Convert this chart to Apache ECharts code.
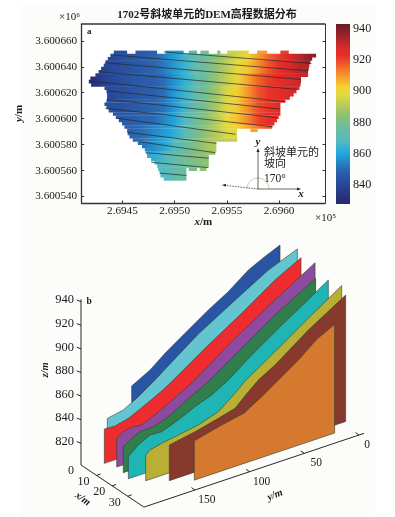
<!DOCTYPE html>
<html>
<head>
	<meta charset="utf-8"/>
	<title>1702号斜坡单元的DEM高程数据分布</title>
	<script src="https://cdn.jsdelivr.net/npm/echarts@6/dist/echarts.min.js"></script>
</head>
<body style="margin: 0; background: #fff;">

	<div id="chart" style="width: 395px; height: 517px;"></div>

	<script>

		var serif = '"Liberation Serif", "Noto Sans CJK SC", serif';
		var ink = '#1a1a1a';

		// 图a: 坐标基准, 下面的数都是相对它的偏移 (m)
		var xBase = 269400, yBase = 3600000;
		var xTicks = [269450, 269500, 269550, 269600];
		var yTicks = [3600540, 3600560, 3600580, 3600600, 3600620, 3600640, 3600660];
		var barTicks = [840, 860, 880, 900, 920, 940];

		// 每行高2.5m, 从y=652.5往下, 每行是若干 [起点, 终点]
		var rowSpans = [
			[41.7, 54.5, 62.5, 83.2, 91.2, 108.7, 113.5, 121.5, 124.7, 132.7, 140.7, 143.9, 150.3, 171, 179, 188.6, 201.3, 209.3],
			[38.5, 235.5], [36, 231.7], [33.7, 230], [32.1, 229.1], [29.6, 228.5],
			[27.3, 227.8], [24.1, 227.8], [19.3, 221.1], [17.8, 221.1], [20, 220.5],
			[32.8, 219.5], [34.7, 216.7], [35.3, 214], [35.3, 210.3], [34.7, 206],
			[32.8, 201.3], [34.7, 201.3], [36.9, 201.3], [41, 201.3], [43.6, 199.7],
			[46.5, 198], [49.7, 195.6], [51.9, 193.4], [54.5, 159.8, 172.6, 179.6], [55, 159.8],
			[56.7, 159.8], [59.9, 159.8], [64.7, 140], [68.8, 140], [71.4, 140],
			[73, 139], [73.6, 132.7], [77.5, 132.7], [80.7, 132.7], [83.2, 132.7],
			[84.2, 111.3, 113.5, 121.5, 124, 130.5], [85.5, 111.3], [86.4, 111.3], [89.6, 111.3]
		];

		// 高程读数: 行 elevY, 列 elevX
		var elevX = [20, 30, 40, 50, 60, 70, 80, 90, 100, 110, 120, 130, 140, 150, 160, 170, 180, 190, 200, 210, 220, 230, 240];
		var elevY = [650, 640, 630, 620, 610, 600, 590, 580, 570, 560];
		var elevZ = [
			[832, 836, 840, 843, 845, 847, 849, 854, 859, 866, 873, 878, 884, 890, 895, 901, 909, 916, 921, 928, 932, 938, 941],
			[832, 837, 841, 843, 845, 847, 849, 853, 858, 865, 873, 878, 885, 892, 898, 904, 911, 918, 923, 928, 932, 938, 941],
			[830, 837, 841, 843, 845, 847, 848, 851, 857, 864, 872, 878, 886, 893, 901, 908, 916, 921, 924, 927, 930, 934, 938],
			[834, 838, 841, 843, 845, 847, 848, 851, 858, 865, 873, 879, 887, 896, 903, 910, 918, 922, 924, 927, 929, 931, 933],
			[838, 841, 843, 844, 846, 848, 849, 852, 858, 866, 874, 881, 889, 897, 904, 911, 919, 922, 924, 925, 926, 927, 928],
			[842, 843, 844, 846, 847, 849, 850, 855, 860, 868, 876, 883, 891, 898, 905, 912, 920, 923, 925, 926, 928, 929, 930],
			[null, null, 846, 847, 849, 851, 855, 858, 863, 870, 878, 885, 891, 897, 903, 908, 914, 919, 921, null, null, null, null],
			[null, null, null, 848, 850, 852, 856, 861, 868, 875, 882, 888, 891, 893, null, null, null, null, null, null, null, null, null],
			[null, null, null, null, null, 857, 862, 867, 873, 879, 882, 885, 887, null, null, null, null, null, null, null, null, null, null],
			[null, null, null, null, null, null, 864, 868, 872, 876, 880, 884, 886, null, null, null, null, null, null, null, null, null, null]
		];

		// 坡面线 [x0, y0, x1, y1]
		var slopeLines = [
			[89.6, 651.5, 231, 642.6],
			[41.7, 649, 227.8, 636.9],
			[33.7, 643.1, 220.5, 630.3],
			[27.3, 636.2, 217.3, 622.6],
			[19.3, 629, 206.1, 613.1],
			[35.3, 621.5, 200.7, 607.4],
			[35.3, 614.9, 198.1, 600.8],
			[33.7, 608, 194, 593.8],
			[44.9, 600.3, 158.2, 588],
			[54.5, 589.5, 140, 581],
			[65.6, 582.3, 139, 573.8],
			[72, 573.8, 132.7, 569.5],
			[77.5, 566.4, 131.7, 562.3],
			[85.8, 558, 111.3, 556.2]
		];

		// 色标, 从828到943等距
		var barMin = 828, barMax = 943;
		var barColors = ['#27286f', '#283379', '#27418f', '#28509f', '#2a5fab', '#2a79bd', '#1f9cd8', '#2dafd8',
			'#55b9c0', '#63bcab', '#70bd97', '#85c07a', '#a3c662', '#c2cf52', '#e5da3e', '#f4d030',
			'#f6a62c', '#f3802a', '#ee5528', '#e72d28', '#d72a2a', '#b02428', '#8c2026', '#681a22'];

		// 图b: 各剖面, 后面的先画
		var sliceX = [1, 3, 5, 10, 15, 20, 25, 30, 35];
		var sliceColors = ['#2a55a5', '#63c5cf', '#ee2c30', '#8e4a9f', '#2f7e4b', '#1fb5b5', '#b8b035', '#86392c', '#d4792e'];
		var sliceBase = 803;
		var sliceY = [
			[151.7, 134.9, 121.2, 103, 81.6, 63.3, 45, 31.3, 16.1],
			[176.8, 162.2, 148.4, 133.2, 124.1, 93.6, 63.1, 29.6, 3.1],
			[182.4, 172.6, 160.5, 145.2, 130, 119.3, 87.3, 56.9, 26.4, 2.6],
			[178.2, 172.1, 164.5, 155.4, 143.2, 128, 106.6, 73.1, 33.5, -3.1],
			[179.3, 171.6, 164, 151.8, 138.1, 122.9, 100, 69.6, 40.6, 3.5],
			[181.8, 172.7, 162, 151.3, 136.1, 120.9, 105.6, 90.4, 69.1, 47.7, 23.4, -1],
			[173.1, 169.1, 158.5, 143.2, 124.9, 106.7, 91.4, 82.3, 54.9, 24.4, -6.1],
			[158.6, 135.1, 113.8, 98.5, 89.4, 77.2, 62, 31.5, -2.6],
			[142.9, 117.9, 96.5, 91.9, 81.3, 70.6, 60, 46.2, 31, 14.6]
		];
		var sliceZ = [
			[855.5, 863.8, 873.7, 885, 898.1, 908, 920.6, 926.8, 932.8],
			[837.6, 840.2, 847.2, 856.6, 862.8, 883.3, 899.8, 917.6, 927.2],
			[832.1, 831.6, 834.3, 840.9, 848, 854, 873.7, 891.1, 909.9, 921.4],
			[827.3, 831.1, 832.4, 831.5, 836.2, 843.6, 854.5, 876.6, 899.6, 919.8],
			[825, 829.7, 833, 833.4, 837.6, 845.6, 856.9, 875.7, 893.5, 913],
			[821.7, 828.8, 833.9, 833.4, 838.6, 845.2, 850.3, 858.3, 872.8, 886, 900.2, 914.6],
			[824.8, 827.9, 830.2, 832.5, 835.3, 840.9, 851.7, 859.3, 875.7, 894.5, 912.7],
			[833.2, 837.2, 841.9, 845.6, 853.5, 863, 871, 891.2, 910.2],
			[836.4, 841.9, 845.8, 848.9, 854.6, 861.1, 867.7, 876.2, 887.6, 895.2]
		];

		var fenceZTicks = [820, 840, 860, 880, 900, 920, 940];
		var fenceXTicks = [0, 10, 20, 30];
		var fenceYTicks = [0, 50, 100, 150];

		// 斜投影, 图b的三维坐标到平面
		function project (x, y, z) {
			var u = 196.6 - y;
			return [81 + 1.558 * x + 1.094 * u, 465 + 1.042 * x - 0.3667 * u - 1.18 * (z - 801.6)];
		}

		function zColor (z) {
			return echarts.color.lerp((z - barMin) / (barMax - barMin), barColors);
		}

		// 一个色带: 用最近的高程行, 沿x方向做渐变
		function spanFill (a, b, y) {
			var band = Math.max(0, Math.min(elevY.length - 1, Math.round((650 - y) / 10)));
			var zs = elevZ[band];
			var stops = [];
			for (var i = 0; i < elevX.length; i++) {
				if (zs[i] != null && elevX[i] >= a && elevX[i] <= b) {
					stops.push({offset: (elevX[i] - a) / (b - a), color: zColor(zs[i])});
				}
			}
			if (!stops.length) {
				var best = null;
				for (var j = 0; j < elevX.length; j++) {
					if (zs[j] != null && (best === null || Math.abs(elevX[j] - a) < Math.abs(elevX[best] - a))) {
						best = j;
					}
				}
				return zColor(zs[best]);
			}
			return new echarts.graphic.LinearGradient(0, 0, 1, 0, stops);
		}

		var spanData = [];
		rowSpans.forEach(function (spans, i) {
			var y = 651.25 - 2.5 * i;
			for (var k = 0; k < spans.length; k += 2) {
				spanData.push([spans[k] + xBase, spans[k + 1] + xBase, y + yBase]);
			}
		});

		var series = [];

		series.push({
			type: 'custom',
			xAxisIndex: 0,
			yAxisIndex: 0,
			silent: true,
			clip: true,
			data: spanData,
			encode: {x: [0, 1], y: 2},
			renderItem: function (params, api) {
				var a = api.value(0), b = api.value(1), y = api.value(2);
				var p0 = api.coord([a, y + 1.25]);
				var p1 = api.coord([b, y - 1.25]);
				return {
					type: 'rect',
					shape: {x: p0[0], y: p0[1], width: p1[0] - p0[0], height: p1[1] - p0[1] + 0.4},
					style: {fill: spanFill(a - xBase, b - xBase, y - yBase)}
				};
			}
		});

		slopeLines.forEach(function (l) {
			series.push({
				type: 'line',
				xAxisIndex: 0,
				yAxisIndex: 0,
				silent: true,
				showSymbol: false,
				z: 5,
				lineStyle: {color: '#26262c', width: 0.7},
				data: [[l[0] + xBase, l[1] + yBase], [l[2] + xBase, l[3] + yBase]]
			});
		});

		// 色标
		series.push({
			type: 'custom',
			xAxisIndex: 1,
			yAxisIndex: 2,
			silent: true,
			data: [[0, barMin, 1, barMax]],
			encode: {x: [0, 2], y: [1, 3]},
			renderItem: function (params, api) {
				var p0 = api.coord([api.value(0), api.value(3)]);
				var p1 = api.coord([api.value(2), api.value(1)]);
				var stops = barColors.map(function (c, i) {
					return {offset: 1 - i / (barColors.length - 1), color: c};
				}).reverse();
				return {
					type: 'rect',
					shape: {x: p0[0], y: p0[1], width: p1[0] - p0[0], height: p1[1] - p0[1]},
					style: {fill: new echarts.graphic.LinearGradient(0, 0, 0, 1, stops)}
				};
			}
		});

		// 图b 剖面
		series.push({
			type: 'custom',
			xAxisIndex: 2,
			yAxisIndex: 3,
			silent: true,
			clip: false,
			data: sliceX.map(function (x, i) { return [i]; }),
			renderItem: function (params, api) {
				var i = params.dataIndex;
				var ys = sliceY[i], zs = sliceZ[i], x = sliceX[i];
				var pts = [api.coord(project(x, ys[0], sliceBase))];
				for (var k = 0; k < ys.length; k++) {
					pts.push(api.coord(project(x, ys[k], zs[k])));
				}
				pts.push(api.coord(project(x, ys[ys.length - 1], sliceBase)));
				return {
					type: 'polygon',
					shape: {points: pts},
					style: {fill: sliceColors[i], stroke: '#33402f', lineWidth: 0.6, lineJoin: 'round'}
				};
			}
		});

		// 图b 坐标轴
		series.push({
			type: 'custom',
			xAxisIndex: 2,
			yAxisIndex: 3,
			silent: true,
			clip: false,
			data: [[0]],
			renderItem: function (params, api) {
				var kids = [];
				function seg (a, b) {
					var p = api.coord(a), q = api.coord(b);
					kids.push({type: 'line', shape: {x1: p[0], y1: p[1], x2: q[0], y2: q[1]},
						style: {stroke: '#111', lineWidth: 0.9}});
				}
				function label (text, p, dx, dy, size) {
					var c = api.coord(p);
					kids.push({type: 'text', style: {text: text, x: c[0] + dx, y: c[1] + dy, fill: ink,
						font: size + 'px ' + serif, textAlign: 'center', textVerticalAlign: 'middle'}});
				}
				var o = project(0, 196.6, 801.6);
				seg(o, project(0, 196.6, 942));
				seg(o, project(40.4, 196.6, 801.6));
				seg(project(40.4, 196.6, 801.6), project(40.4, -4.6, 801.6));
				fenceZTicks.forEach(function (t) {
					var p = project(0, 196.6, t);
					seg(p, [p[0] - 4.3, p[1] - 1.7]);
					label(String(t), p, -16.5, -1.5, 12.5);
				});
				fenceXTicks.forEach(function (t, i) {
					var p = project(t, 196.6, 801.6);
					if (i > 0) seg(p, [p[0] + 4, p[1] - 1.4]);
					label(String(t), p, i === 0 ? -10 : -13, 6.3, 12);
				});
				fenceYTicks.forEach(function (t) {
					var p = project(40.4, t, 801.6);
					seg(p, [p[0] - 3.5, p[1] - 2.4]);
					label(String(t), p, t === 0 ? 8 : 12, 10, 11.5);
				});
				return {type: 'group', children: kids};
			}
		});

		function tickLabel (size) {
			return {fontFamily: serif, fontSize: size, color: ink};
		}

		var italicName = {i: {fontStyle: 'italic', fontFamily: serif, fontSize: 11, color: ink, fontWeight: 'bold'}};

		var option = {
			animation: false,
			grid: [
				{left: 81.7, top: 24, width: 243.3, height: 179, show: true, backgroundColor: '#fff', borderWidth: 0},
				{left: 336, top: 24, width: 14, height: 180, show: false},
				{left: 0, top: 0, width: 395, height: 517, show: false}
			],
			xAxis: [
				{
					type: 'value', gridIndex: 0, min: 269411, max: 269644,
					axisLine: {lineStyle: {color: '#333', width: 1.3}, onZero: false},
					axisTick: {inside: true, length: 2.5, customValues: xTicks, lineStyle: {color: '#333'}},
					axisLabel: Object.assign(tickLabel(11.2), {margin: 2, customValues: xTicks, formatter: function (v) { return (v / 1e5).toFixed(4); }}),
					splitLine: {show: false},
					name: '{i|x}/m', nameLocation: 'middle', nameGap: 14,
					nameTextStyle: {fontFamily: serif, fontSize: 11, color: ink, fontWeight: 'bold', rich: italicName}
				},
				{type: 'value', gridIndex: 1, min: 0, max: 1, show: false},
				{type: 'value', gridIndex: 2, min: 0, max: 395, show: false}
			],
			yAxis: [
				{
					type: 'value', gridIndex: 0, min: 3600535, max: 3600673,
					axisLine: {show: true, lineStyle: {color: '#333', width: 1.3}, onZero: false},
					axisTick: {inside: true, length: 2.5, customValues: yTicks, lineStyle: {color: '#333'}},
					axisLabel: Object.assign(tickLabel(11.2), {margin: 4.5, customValues: yTicks, formatter: function (v) { return (v / 1e6).toFixed(6); }}),
					splitLine: {show: false},
					name: '{i|y}/m', nameLocation: 'middle', nameGap: 43,
					nameTextStyle: {fontFamily: serif, fontSize: 11, color: ink, fontWeight: 'bold', rich: italicName}
				},
				{
					type: 'value', gridIndex: 0, position: 'right', min: 3600535, max: 3600673,
					axisLine: {show: true, lineStyle: {color: '#333', width: 1}, onZero: false},
					axisTick: {inside: true, length: 2.5, customValues: yTicks, lineStyle: {color: '#333'}},
					axisLabel: {show: false},
					splitLine: {show: false}
				},
				{
					type: 'value', gridIndex: 1, position: 'right', min: 828, max: 943,
					axisLine: {show: false},
					axisTick: {show: false},
					axisLabel: Object.assign(tickLabel(12.2), {margin: 3, customValues: barTicks}),
					splitLine: {show: false}
				},
				{type: 'value', gridIndex: 2, min: 0, max: 517, inverse: true, show: false}
			],
			graphic: [
				{type: 'rect', z: -10, silent: true, shape: {x: 20, y: 6, width: 355, height: 511}, style: {fill: '#fcfcfa'}},
				// 上边框
				{type: 'line', z: 10, silent: true, shape: {x1: 81.7, y1: 24, x2: 325, y2: 24}, style: {stroke: '#333', lineWidth: 1.3}},
				{type: 'text', style: {text: '1702号斜坡单元的DEM高程数据分布', x: 207, y: 15.5, fill: ink, font: 'bold 11px ' + serif, textAlign: 'center', textVerticalAlign: 'middle'}},
				{type: 'text', style: {text: '×10⁶', x: 59, y: 17, fill: ink, font: '11px ' + serif, textVerticalAlign: 'middle'}},
				{type: 'text', style: {text: '×10⁵', x: 315, y: 218, fill: ink, font: '11px ' + serif, textVerticalAlign: 'middle'}},
				{type: 'text', style: {text: 'a', x: 87, y: 32, fill: ink, font: 'bold 9px ' + serif, textVerticalAlign: 'middle'}},
				// 坡向示意
				{type: 'arc', silent: true, z: 6, shape: {cx: 258, cy: 189, r: 11, startAngle: Math.PI, endAngle: 2 * Math.PI}, style: {stroke: '#cfcdb4', fill: 'none', lineWidth: 1}},
				{type: 'line', silent: true, z: 6, shape: {x1: 258, y1: 189, x2: 258, y2: 151}, style: {stroke: '#555', lineWidth: 0.9}},
				{type: 'polygon', silent: true, z: 6, shape: {points: [[258, 148], [256.5, 152], [259.5, 152]]}, style: {fill: '#222'}},
				{type: 'line', silent: true, z: 6, shape: {x1: 258, y1: 189, x2: 298, y2: 189}, style: {stroke: '#555', lineWidth: 0.9}},
				{type: 'polygon', silent: true, z: 6, shape: {points: [[301, 189], [297, 187.5], [297, 190.5]]}, style: {fill: '#222'}},
				{type: 'line', silent: true, z: 6, shape: {x1: 258, y1: 189, x2: 226, y2: 185.5}, style: {stroke: '#333', lineWidth: 0.8, lineDash: [1.5, 1.2]}},
				{type: 'polygon', silent: true, z: 6, shape: {points: [[222, 185], [226.2, 183.8], [225.8, 186.8]]}, style: {fill: '#222'}},
				{type: 'text', style: {text: 'y', x: 258, y: 142, fill: ink, font: 'italic bold 11px ' + serif, textAlign: 'center', textVerticalAlign: 'middle'}},
				{type: 'text', style: {text: 'x', x: 301, y: 194.5, fill: ink, font: 'italic bold 11px ' + serif, textAlign: 'center', textVerticalAlign: 'middle'}},
				{type: 'text', style: {text: '斜坡单元的', x: 264, y: 153, fill: ink, font: '11px ' + serif, textVerticalAlign: 'middle'}},
				{type: 'text', style: {text: '坡向', x: 264, y: 164, fill: ink, font: '11px ' + serif, textVerticalAlign: 'middle'}},
				{type: 'text', style: {text: '170°', x: 264, y: 179, fill: ink, font: '11.5px ' + serif, textVerticalAlign: 'middle'}},
				// 图b的文字
				{type: 'text', style: {text: 'b', x: 86.5, y: 302, fill: ink, font: 'bold 9.5px ' + serif, textVerticalAlign: 'middle'}},
				{type: 'text', x: 45.7, y: 370, rotation: Math.PI / 2, style: {text: 'z/m', fill: ink, font: 'italic bold 10.5px ' + serif, textAlign: 'center', textVerticalAlign: 'middle'}},
				{type: 'text', x: 82.7, y: 499, rotation: -0.62, style: {text: 'x/m', fill: ink, font: 'italic bold 10.5px ' + serif, textAlign: 'center', textVerticalAlign: 'middle'}},
				{type: 'text', x: 275, y: 495, rotation: 0.38, style: {text: 'y/m', fill: ink, font: 'italic bold 10.5px ' + serif, textAlign: 'center', textVerticalAlign: 'middle'}}
			],
			series: series
		};

		var myChart = echarts.init(document.getElementById('chart'), null, {renderer: 'canvas'});
		myChart.setOption(option);

	</script>
</body>
</html>
